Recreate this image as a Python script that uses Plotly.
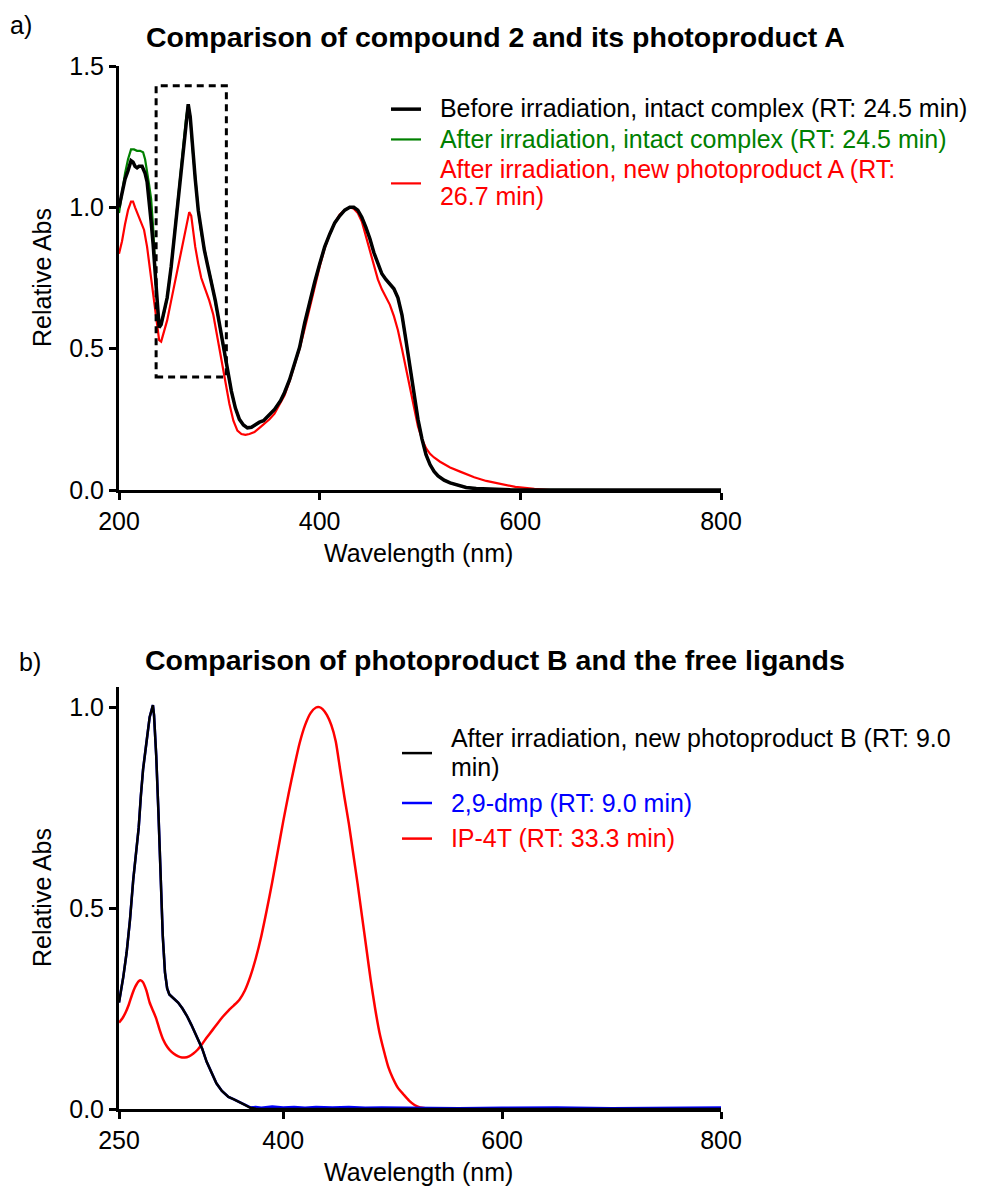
import plotly.graph_objects as go

FONT = "Liberation Sans, Arial, sans-serif"

# ---------------- Panel a data ----------------
a_black_wl = [200, 203, 206, 209, 212, 214, 216, 218, 220, 223, 226, 228, 230, 232, 234, 236, 238, 240,
              242, 245, 248, 252, 256, 260, 264, 267, 269, 271, 273, 276, 279, 282, 285, 288, 292, 296,
              300, 304, 308, 312, 316, 320, 324, 328, 332, 336, 340, 344, 350, 355, 361, 365, 370, 375,
              380, 385, 390, 395, 400, 405, 410, 415, 420, 425, 430, 434, 438, 442, 446, 450, 454, 458,
              462, 466, 470, 474, 478, 482, 486, 490, 494, 498, 502, 506, 510, 514, 518, 524, 530, 538,
              546, 556, 570, 590, 610, 700, 800]
a_black_abs = [1.00, 1.05, 1.10, 1.13, 1.165, 1.16, 1.145, 1.14, 1.145, 1.145, 1.12, 1.09, 1.03, 0.95, 0.87,
               0.76, 0.64, 0.575, 0.585, 0.63, 0.68, 0.79, 0.93, 1.08, 1.22, 1.32, 1.365, 1.32, 1.22, 1.10,
               0.99, 0.91, 0.85, 0.80, 0.74, 0.67, 0.59, 0.505, 0.42, 0.35, 0.29, 0.25, 0.23, 0.22, 0.222,
               0.232, 0.24, 0.245, 0.265, 0.285, 0.316, 0.345, 0.39, 0.445, 0.505, 0.59, 0.665, 0.735,
               0.80, 0.86, 0.905, 0.945, 0.97, 0.99, 1.0, 1.0, 0.99, 0.965, 0.93, 0.89, 0.84, 0.80, 0.765,
               0.745, 0.73, 0.712, 0.68, 0.62, 0.53, 0.44, 0.34, 0.25, 0.18, 0.125, 0.09, 0.066, 0.05,
               0.035, 0.025, 0.016, 0.009, 0.005, 0.002, 0.0005, 0.0, 0.0, 0.0]

a_green_wl = [200, 203, 206, 209, 212, 215, 218, 221, 224, 226, 228, 230, 232, 234, 236, 238, 240,
              242, 245, 248, 252, 256, 260, 264, 267, 269, 271, 273, 276, 279, 282, 285, 288, 292, 296,
              300, 304, 308, 312, 316, 320, 324, 328, 332, 336, 340, 344, 350, 355, 361, 365, 370, 375,
              380, 385, 390, 395, 400, 405, 410, 415, 420, 425, 430, 434, 438, 442, 446, 450, 454, 458,
              462, 466, 470, 474, 478, 482, 486, 490, 494, 498, 502, 506, 510, 514, 518, 524, 530, 538,
              546, 556, 570, 590, 610, 700, 800]
a_green_abs = [0.98, 1.06, 1.12, 1.17, 1.205, 1.205, 1.20, 1.20, 1.195, 1.17, 1.13, 1.08, 1.03, 0.93, 0.79,
               0.66, 0.58, 0.585, 0.63, 0.68, 0.79, 0.93, 1.08, 1.22, 1.32, 1.365, 1.32, 1.22, 1.10,
               0.99, 0.91, 0.85, 0.80, 0.74, 0.67, 0.59, 0.505, 0.42, 0.35, 0.29, 0.25, 0.23, 0.22, 0.222,
               0.232, 0.24, 0.245, 0.265, 0.285, 0.316, 0.345, 0.39, 0.445, 0.505, 0.59, 0.665, 0.735,
               0.80, 0.86, 0.905, 0.945, 0.97, 0.99, 1.0, 1.0, 0.99, 0.965, 0.93, 0.89, 0.84, 0.80, 0.765,
               0.745, 0.73, 0.712, 0.68, 0.62, 0.53, 0.44, 0.34, 0.25, 0.18, 0.125, 0.09, 0.066, 0.05,
               0.035, 0.025, 0.016, 0.009, 0.005, 0.002, 0.0005, 0.0, 0.0, 0.0]

a_red_wl = [200, 203, 206, 209, 212, 214, 216, 219, 222, 225, 228, 231, 234, 237, 240, 242, 245, 248, 252,
            256, 260, 264, 267, 270, 272, 274, 276, 279, 282, 286, 290, 294, 298, 302, 306, 310, 314, 318,
            322, 326, 330, 335, 340, 345, 350, 355, 360, 365, 370, 375, 380, 385, 390, 395, 400, 405,
            410, 415, 420, 425, 430, 434, 438, 442, 446, 450, 454, 458, 462, 466, 470, 474, 478, 482,
            486, 490, 494, 498, 502, 506, 510, 514, 520, 530, 540, 554, 566, 581, 595, 614, 630, 700, 800]
a_red_abs = [0.836, 0.88, 0.94, 0.99, 1.02, 1.02, 1.00, 0.975, 0.95, 0.92, 0.86, 0.78, 0.69, 0.60, 0.53,
             0.525, 0.56, 0.60, 0.67, 0.74, 0.81, 0.88, 0.94, 0.983, 0.97, 0.91, 0.86, 0.80, 0.75, 0.71,
             0.67, 0.62, 0.54, 0.45, 0.375, 0.305, 0.245, 0.21, 0.198, 0.195, 0.198, 0.205, 0.22, 0.235,
             0.25, 0.27, 0.30, 0.335, 0.385, 0.44, 0.50, 0.57, 0.645, 0.72, 0.79, 0.855, 0.905, 0.945,
             0.975, 0.99, 1.0, 0.995, 0.98, 0.95, 0.90, 0.85, 0.80, 0.745, 0.71, 0.685, 0.655, 0.615,
             0.565, 0.50, 0.43, 0.355, 0.285, 0.225, 0.18, 0.148, 0.128, 0.115, 0.10, 0.08, 0.065, 0.045,
             0.032, 0.02, 0.011, 0.004, 0.0, 0.0, 0.0]

# highlighted region (dashed box) in panel a
box_wl = [237, 307]
box_abs = [0.40, 1.43]

# ---------------- Panel b data ----------------
b_black_wl = [250, 254, 257, 260, 263, 265, 268, 270, 272, 275, 278, 280, 281, 282, 284, 286, 288, 290,
              292, 294, 296, 300, 304, 308, 312, 316, 321, 326, 330, 335, 339, 344, 350, 355, 360, 365,
              370, 375, 380, 500, 650, 800]
b_black_abs = [0.265, 0.33, 0.39, 0.47, 0.57, 0.62, 0.70, 0.78, 0.845, 0.91, 0.975, 0.995, 1.005, 0.98,
               0.88, 0.74, 0.58, 0.43, 0.34, 0.30, 0.285, 0.275, 0.265, 0.25, 0.232, 0.21, 0.182, 0.15,
               0.118, 0.087, 0.064, 0.045, 0.03, 0.024, 0.018, 0.01, 0.003, 0.0005, 0.0, 0.0, 0.0, 0.0]

b_blue_wl = [250, 254, 257, 260, 263, 265, 268, 270, 272, 275, 278, 280, 281, 282, 284, 286, 288, 290,
             292, 294, 296, 300, 304, 308, 312, 316, 321, 326, 330, 335, 339, 344, 350, 355, 360, 365,
             370, 375, 380, 390, 400, 410, 420, 430, 445, 460, 475, 490, 520, 560, 600, 650, 700, 750, 800]
b_blue_abs = [0.265, 0.33, 0.39, 0.47, 0.57, 0.62, 0.70, 0.78, 0.845, 0.91, 0.975, 0.995, 1.005, 0.98,
              0.88, 0.74, 0.58, 0.43, 0.34, 0.30, 0.285, 0.275, 0.265, 0.25, 0.232, 0.21, 0.182, 0.15,
              0.118, 0.087, 0.064, 0.045, 0.03, 0.024, 0.018, 0.01, 0.004, 0.005, 0.003, 0.006, 0.004,
              0.005, 0.003, 0.005, 0.004, 0.005, 0.003, 0.004, 0.003, 0.002, 0.003, 0.004, 0.002, 0.003,
              0.004]

b_red_wl = [250, 253, 256, 259, 262, 265, 268, 270, 272, 275, 278, 281, 284, 287, 290, 294, 298, 302, 306,
            310, 314, 318, 322, 326, 330, 335, 340, 345, 350, 355, 360, 365, 370, 375, 380, 385, 390, 395,
            400, 405, 410, 415, 420, 425, 430, 433, 436, 440, 444, 448, 452, 456, 460, 464, 468, 472, 476,
            480, 484, 488, 492, 496, 500, 505, 510, 515, 520, 525, 530, 540, 800]
b_red_abs = [0.215, 0.225, 0.24, 0.26, 0.285, 0.305, 0.318, 0.32, 0.315, 0.295, 0.265, 0.245, 0.225, 0.198,
             0.175, 0.155, 0.142, 0.134, 0.129, 0.128, 0.131, 0.138, 0.148, 0.162, 0.177, 0.195, 0.213,
             0.23, 0.245, 0.258, 0.272, 0.295, 0.33, 0.375, 0.43, 0.495, 0.565, 0.64, 0.715, 0.785, 0.85,
             0.91, 0.955, 0.985, 0.999, 1.0, 0.995, 0.98, 0.955, 0.915, 0.845, 0.775, 0.71, 0.635, 0.56,
             0.48, 0.40, 0.32, 0.25, 0.19, 0.145, 0.105, 0.078, 0.052, 0.036, 0.021, 0.01, 0.004, 0.002,
             0.0, 0.0]

# ---------------- labels ----------------
title_a = "Comparison of compound 2 and its photoproduct A"
title_b = "Comparison of photoproduct B and the free ligands"
x_title = "Wavelength (nm)"
y_title = "Relative Abs"
a_xticks = [200, 400, 600, 800]
a_yticks = [0.0, 0.5, 1.0, 1.5]
b_xticks = [250, 400, 600, 800]
b_yticks = [0.0, 0.5, 1.0]

names_a = ["Before irradiation, intact complex (RT: 24.5 min)",
           "After irradiation, intact complex (RT: 24.5 min)",
           "After irradiation, new photoproduct A (RT:<br>&nbsp;&nbsp;26.7 min)"]
names_b = ["After irradiation, new photoproduct B (RT: 9.0<br>&nbsp;&nbsp;min)",
           "2,9-dmp (RT: 9.0 min)",
           "IP-4T (RT: 33.3 min)"]

GREEN = "#008000"
RED = "#FF0000"
BLUE = "#0000FF"
BLACK = "#000000"

TXT = 25  # text size of labels / legend entries


def colored(txt, c):
    return f'<span style="color:{c};font-size:{TXT}px">&nbsp;&nbsp;{txt}</span>'


fig = go.Figure()

# panel a (green & red first, black drawn on top)
fig.add_trace(go.Scatter(x=a_green_wl, y=a_green_abs, mode="lines", line=dict(color=GREEN, width=2.2),
                         name=colored(names_a[1], GREEN), legend="legend", legendrank=2,
                         xaxis="x", yaxis="y"))
fig.add_trace(go.Scatter(x=a_red_wl, y=a_red_abs, mode="lines", line=dict(color=RED, width=2.2),
                         name=colored(names_a[2], RED), legend="legend", legendrank=3,
                         xaxis="x", yaxis="y"))
fig.add_trace(go.Scatter(x=a_black_wl, y=a_black_abs, mode="lines", line=dict(color=BLACK, width=3.5),
                         name=colored(names_a[0], BLACK), legend="legend", legendrank=1,
                         xaxis="x", yaxis="y"))

# panel b
fig.add_trace(go.Scatter(x=b_red_wl, y=b_red_abs, mode="lines",
                         line=dict(color=RED, width=2.5, shape="spline", smoothing=0.6),
                         name=colored(names_b[2], RED), legend="legend2", legendrank=3,
                         legendgroup="b3", xaxis="x2", yaxis="y2"))
fig.add_trace(go.Scatter(x=b_blue_wl, y=b_blue_abs, mode="lines", line=dict(color=BLUE, width=2.5),
                         name=colored(names_b[1], BLUE), legend="legend2", legendrank=2,
                         legendgroup="b2", xaxis="x2", yaxis="y2"))
fig.add_trace(go.Scatter(x=b_black_wl, y=b_black_abs, mode="lines", line=dict(color=BLACK, width=2.5),
                         name=colored(names_b[0], BLACK), legend="legend2", legendrank=1,
                         legendgroup="b1", xaxis="x2", yaxis="y2"))

fig.add_shape(type="rect", xref="x", yref="y", x0=box_wl[0], x1=box_wl[1], y0=box_abs[0], y1=box_abs[1],
              line=dict(color=BLACK, width=3, dash="7px,5px"), fillcolor="rgba(0,0,0,0)")

axis_common = dict(showline=True, linecolor=BLACK, linewidth=3, ticks="outside", ticklen=7, tickwidth=3,
                   tickcolor=BLACK, showgrid=False, zeroline=False, mirror=False,
                   tickfont=dict(family=FONT, size=TXT, color=BLACK))

W, H = 984, 1187
L, R, T, B = 119, 263, 66, 78
PW, PH = W - L - R, H - T - B


def px(xp):
    return (xp - L) / PW


def py(yp):
    return (H - B - yp) / PH


fig.update_layout(
    width=W, height=H,
    margin=dict(l=L, r=R, t=T, b=B, autoexpand=False),
    paper_bgcolor="white", plot_bgcolor="white",
    font=dict(family=FONT, size=TXT, color=BLACK),
    xaxis=dict(domain=[0, 1], range=[200, 800], tickvals=a_xticks, anchor="y", **axis_common),
    yaxis=dict(domain=[py(490), 1], range=[0, 1.5], tickvals=a_yticks, tickformat=".1f", anchor="x",
               **axis_common),
    xaxis2=dict(domain=[0, 1], range=[250, 800], tickvals=b_xticks, anchor="y2", **axis_common),
    yaxis2=dict(domain=[0, py(687)], range=[0, 1.05], tickvals=b_yticks, tickformat=".1f", anchor="x2",
                **axis_common),
    legend=dict(x=px(386), y=py(89), xanchor="left", yanchor="top", bgcolor="rgba(0,0,0,0)",
                borderwidth=0, font=dict(family=FONT, size=21, color=BLACK), traceorder="normal"),
    legend2=dict(x=px(397), y=py(718), xanchor="left", yanchor="top", bgcolor="rgba(0,0,0,0)",
                 borderwidth=0, font=dict(family=FONT, size=22, color=BLACK), traceorder="grouped",
                 tracegroupgap=4),
    showlegend=True,
)

ann = [
    dict(text="a)", x=px(21), y=py(25), size=TXT),
    dict(text=f"<b>{title_a}</b>", x=px(495), y=py(37), size=28.5),
    dict(text="b)", x=px(30), y=py(662), size=TXT),
    dict(text=f"<b>{title_b}</b>", x=px(495), y=py(660), size=28.5),
    dict(text=x_title, x=px(418), y=py(553), size=TXT),
    dict(text=x_title, x=px(418), y=py(1172), size=TXT),
]
for a in ann:
    fig.add_annotation(text=a["text"], x=a["x"], y=a["y"], xref="paper", yref="paper", showarrow=False,
                       xanchor="center", yanchor="middle", font=dict(family=FONT, size=a["size"], color=BLACK))
for yc in (278, 898):
    fig.add_annotation(text=y_title, x=px(42), y=py(yc), xref="paper", yref="paper", showarrow=False,
                       xanchor="center", yanchor="middle", textangle=-90,
                       font=dict(family=FONT, size=TXT, color=BLACK))

fig.write_html("out.html")
